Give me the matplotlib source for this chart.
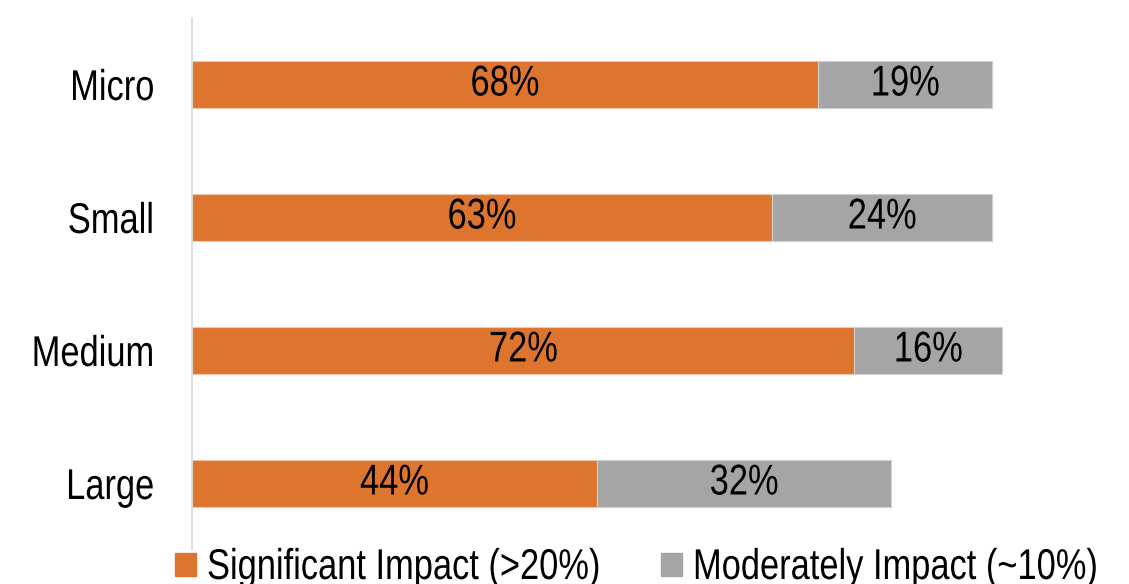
import matplotlib.pyplot as plt
from matplotlib.patches import Rectangle
from matplotlib.patheffects import AbstractPathEffect
from matplotlib.transforms import Affine2D

plt.rcParams['font.family'] = ['Liberation Sans', 'DejaVu Sans']

categories = ['Micro', 'Small', 'Medium', 'Large']
significant = [68, 63, 72, 44]
moderate = [19, 24, 16, 32]
legend_labels = ['Significant Impact (>20%)', 'Moderately Impact (~10%)']

orange = '#DE752F'
grey = '#A5A5A5'
FS = 31


class Narrow(AbstractPathEffect):
    """Squeeze text horizontally (narrow face look) around a chosen anchor."""

    def __init__(self, sx=0.8, anchor='center'):
        super().__init__()
        self.sx = sx
        self.anchor = anchor

    def draw_path(self, renderer, gc, tpath, affine, rgbFace=None):
        ext = tpath.get_extents()
        cx = {'left': 0.0, 'right': ext.x1, 'center': (ext.x0 + ext.x1) / 2}[self.anchor]
        t = Affine2D().translate(-cx, 0).scale(self.sx, 1).translate(cx, 0) + affine
        renderer.draw_path(gc, tpath, t, rgbFace)


W, H = 1129, 584
fig = plt.figure(figsize=(W / 100, H / 100), dpi=100)
ax = fig.add_axes([192 / W, 34 / H, 920 / W, 532 / H])

y = list(range(len(categories)))[::-1]
h = 0.35
b1 = ax.barh(y, significant, height=h, color=orange, edgecolor='#f2c6a8', linewidth=0.8)
b2 = ax.barh(y, moderate, left=significant, height=h, color=grey, edgecolor='#d0d0d0', linewidth=0.8)

for bars, vals in [(b1, significant), (b2, moderate)]:
    for t in ax.bar_label(bars, labels=[f'{v}%' for v in vals], label_type='center', fontsize=FS):
        t.set_path_effects([Narrow(anchor='center')])

ax.set_xlim(0, 100)
ax.set_ylim(-0.5, 3.5)
ax.set_yticks(y)
ax.set_yticklabels(categories, fontsize=FS)
for t in ax.get_yticklabels():
    t.set_path_effects([Narrow(anchor='right')])
ax.tick_params(axis='y', length=0, pad=27)
ax.set_xticks([])
for s in ['top', 'right', 'bottom']:
    ax.spines[s].set_visible(False)
ax.spines['left'].set_color('#d9d9d9')
ax.spines['left'].set_linewidth(1.2)

# legend drawn by hand along the bottom edge
for (mx, tx), col, lab in zip([(175, 207), (661, 693)], [orange, grey], legend_labels):
    fig.patches.append(Rectangle((mx / W, 1 - 576 / H), 21 / W, 23 / H,
                                 transform=fig.transFigure, color=col))
    t = fig.text(tx / W, 1 - 579 / H, lab, fontsize=FS, ha='left', va='baseline')
    t.set_path_effects([Narrow(anchor='left')])

fig.savefig('out.png', dpi=100)
